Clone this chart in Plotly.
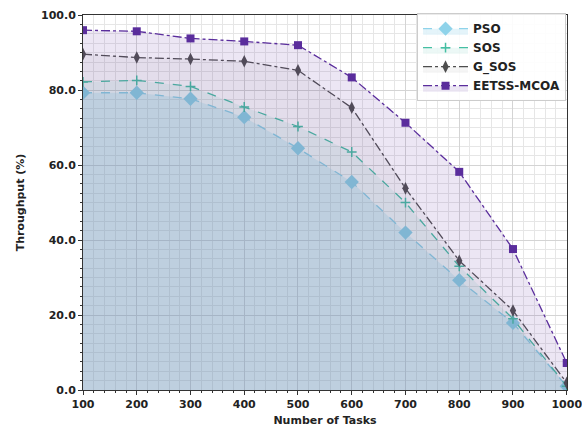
import plotly.graph_objects as go

tasks = [100, 200, 300, 400, 500, 600, 700, 800, 900, 1000]
pso = [79.3, 79.3, 77.7, 72.8, 64.5, 55.5, 42.0, 29.3, 17.9, 1.0]
sos = [82.2, 82.6, 81.0, 75.5, 70.3, 63.5, 50.0, 33.0, 19.0, 1.0]
g_sos = [89.6, 88.7, 88.3, 87.7, 85.3, 75.3, 53.8, 34.5, 21.2, 1.9]
eetss = [96.0, 95.7, 93.8, 93.0, 92.0, 83.4, 71.3, 58.2, 37.6, 7.2]

x_ticks = [100, 200, 300, 400, 500, 600, 700, 800, 900, 1000]
y_ticks = [0, 20, 40, 60, 80, 100]

series = [
    ("PSO", pso, "#8fd3ea", "rgba(134,207,230,0.22)", "diamond", 11, "dash"),
    ("SOS", sos, "#45bfa3", "rgba(69,191,163,0.10)", "cross-thin", 7, "dash"),
    ("G_SOS", g_sos, "#4d4d4d", "rgba(77,77,77,0.06)", "diamond-tall", 9, "dashdot"),
    ("EETSS-MCOA", eetss, "#5a2d9c", "rgba(110,60,170,0.13)", "square", 8, "dashdot"),
]

fig = go.Figure()
for name, vals, col, fcol, sym, size, dash in series:
    marker = dict(symbol=sym, size=size, color=col)
    if sym == "cross-thin":
        marker["line"] = dict(color=col, width=1.5)
    fig.add_trace(go.Scatter(
        x=tasks, y=vals, name=name, mode="lines+markers",
        line=dict(color=col, width=1.3, dash=dash),
        marker=marker, fill="tozeroy", fillcolor=fcol,
    ))

tf = dict(family="DejaVu Sans", size=11, color="#222", weight="bold")
fig.update_layout(
    width=582, height=431,
    margin=dict(l=83, r=15, t=15, b=41),
    paper_bgcolor="white", plot_bgcolor="white",
    font=dict(family="DejaVu Sans", size=11, color="#222"),
    legend=dict(
        x=0.998, y=1.005, xanchor="right", yanchor="top",
        bgcolor="rgba(255,255,255,0.9)", bordercolor="#cccccc", borderwidth=1,
        font=dict(family="DejaVu Sans", size=12, color="#222", weight="bold"),
        itemwidth=45, tracegroupgap=0,
    ),
)
fig.update_xaxes(
    range=[100, 1000.5], tickmode="array", tickvals=x_ticks,
    ticktext=[str(v) for v in x_ticks],
    tickfont=tf, ticklabeloverflow="allow", automargin=False,
    title=dict(text="<b>Number of Tasks</b>", font=dict(size=11), standoff=6),
    showline=True, linecolor="#333", mirror=True, linewidth=1,
    ticks="outside", ticklen=4, tickcolor="#333",
    showgrid=True, gridcolor="#d4d4d4", gridwidth=1,
    minor=dict(tickmode="linear", tick0=100, dtick=20, showgrid=True, gridcolor="#e6e6e6",
               ticks="outside", ticklen=2, tickcolor="#333"),
    zeroline=False,
)
fig.update_yaxes(
    range=[0, 100.05], tickmode="array", tickvals=y_ticks,
    ticktext=["%.1f" % v for v in y_ticks],
    tickfont=tf, ticklabeloverflow="allow", automargin=False,
    title=dict(text="<b>Throughput (%)</b>", font=dict(size=11), standoff=14),
    showline=True, linecolor="#333", mirror=True, linewidth=1,
    ticks="outside", ticklen=4, tickcolor="#333",
    showgrid=True, gridcolor="#d4d4d4", gridwidth=1,
    minor=dict(tickmode="linear", tick0=0, dtick=2.5, showgrid=True, gridcolor="#e6e6e6",
               ticks="outside", ticklen=2, tickcolor="#333"),
    zeroline=False,
)
fig.write_html("out.html")
